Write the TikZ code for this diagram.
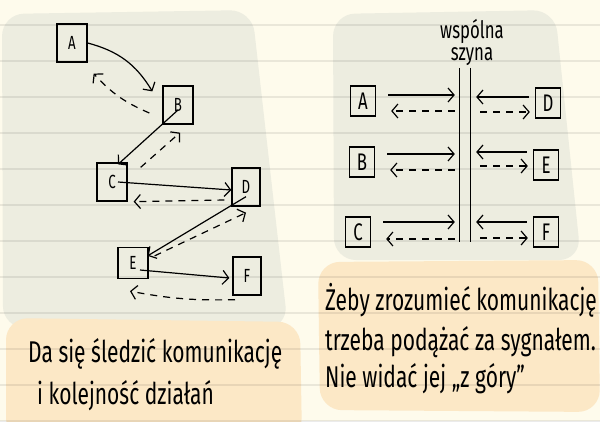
\documentclass[tikz,border=0pt]{standalone}
\usepackage{fontspec}
\setmainfont{Fira Sans}[FakeStretch=0.7]
\usetikzlibrary{arrows.meta,positioning}

\definecolor{paper}{HTML}{FEFBEC}
\definecolor{slate}{HTML}{EDEDE0}
\definecolor{peach}{HTML}{FCE8C6}

\tikzset{
  rule/.style={black, opacity=0.08, line width=1.6pt},
  box/.style={draw, line width=1.3pt, minimum width=30pt, minimum height=38pt,
    inner sep=0pt, font=\fontsize{19}{19}\selectfont},
  sbox/.style={box, minimum width=25pt, minimum height=30pt,
    font=\fontsize{24}{24}\selectfont},
  msg/.style={line width=1.2pt, -{Straight Barb[length=6pt,width=14pt]}},
  reply/.style={msg, dash pattern=on 7pt off 6pt},
  note/.style={anchor=base west, inner sep=0pt, font=\fontsize{30}{30}\selectfont},
}

\begin{document}
\begin{tikzpicture}[x=1pt,y=-1pt]
  \useasboundingbox (0,0) rectangle (600,421);
  \fill[paper] (0,0) rectangle (600,421);

  % panels
  \fill[slate, rounded corners=22pt] (2,14) -- (252,10) -- (288,328) -- (3,328) -- cycle;
  \fill[slate, rounded corners=22pt] (333,14) -- (555,10) -- (581,260) -- (334,260) -- cycle;
  \fill[peach, rounded corners=22pt] (6,318) -- (300,322) -- (302,440) -- (6,440) -- cycle;
  \fill[peach, rounded corners=22pt] (318,262) -- (598,260) -- (600,412) -- (320,410) -- cycle;

  % ruled paper
  \foreach \y in {25,61,...,421}
    \draw[rule] (0,\y) -- (600,\y);

  % left: point to point
  \node[box] (A) at (72,43) {A};
  \node[box] (B) at (178,105) {B};
  \node[box] (C) at (112,182) {C};
  \node[box, minimum width=28pt] (D) at (246,187) {D};
  \node[box, minimum height=31pt] (E) at (133,263) {E};
  \node[box, minimum width=28pt] (F) at (247,276) {F};

  \draw[msg] (A.east) to[bend left=22] ([xshift=-10pt,yshift=-6pt]B.north west);
  \draw[reply] ([xshift=-13pt,yshift=-8pt]B.west) to[bend left=12] ([xshift=6pt,yshift=-11pt]A.south east);
  \draw[msg] ([yshift=-5pt]B.center) -- ([xshift=6pt,yshift=-2pt]C.north);
  \draw[reply] ([xshift=13pt,yshift=-5pt]C.north east) -- ([xshift=2pt,yshift=-8pt]B.south);
  \draw[msg] ([xshift=6pt]C.center) -- ([yshift=-3pt]D.west);
  \draw[reply] ([xshift=-7pt,yshift=-13pt]D.west) -- ([xshift=6pt]C.south east);
  \draw[msg] ([yshift=10pt]D.south) -- ([xshift=-1pt,yshift=-9pt]E.north east);
  \draw[reply] ([xshift=6pt,yshift=-9pt]E.north east) -- ([yshift=-6pt]D.south);
  \draw[msg] ([xshift=7pt,yshift=-7pt]E.center) -- ([xshift=-3pt,yshift=-2pt]F.west);
  \draw[reply] ([xshift=-12pt,yshift=-4pt]F.south) to[bend left=6] ([xshift=-3pt,yshift=-12pt]E.south);

  % right: shared bus
  \node[inner sep=0pt, minimum width=10pt, minimum height=174pt] (bus) at (465,155) {};
  \draw[line width=1.3pt] (bus.north west) -- (bus.south west);
  \draw[line width=1.3pt] (bus.north east) -- (bus.south east);
  \node[align=center, inner sep=0pt, font=\fontsize{24}{22}\selectfont,
    above=2pt of bus.north, xshift=7pt] (buslabel) {wspólna\\szyna};

  \node[sbox] (rA) at (363,101) {A};
  \node[sbox] (rB) at (362,162) {B};
  \node[sbox] (rC) at (358,232) {C};
  \node[sbox] (rD) at (548,103) {D};
  \node[sbox] (rE) at (546,165) {E};
  \node[sbox] (rF) at (546,232) {F};

  \foreach \n/\up/\dn in {A/6/-10, B/8/-8, C/10/-7} {
    \draw[msg] ([xshift=12pt,yshift=\up pt]r\n.east) -- ([xshift=-5pt,yshift=\up pt]r\n.east -| bus.west);
    \draw[reply] ([xshift=-5pt,yshift=\dn pt]r\n.east -| bus.west) -- ([xshift=15pt,yshift=\dn pt]r\n.east);
  }
  \foreach \n/\up/\dn in {D/6/-9, E/13/-1, F/10/-6} {
    \draw[msg] ([xshift=-6pt,yshift=\up pt]r\n.west) -- ([xshift=6pt,yshift=\up pt]r\n.west -| bus.east);
    \draw[reply] ([xshift=10pt,yshift=\dn pt]r\n.west -| bus.east) -- ([xshift=-5pt,yshift=\dn pt]r\n.west);
  }

  % captions
  \node[note] (left1) at (28,362) {Da się śledzić komunikację};
  \node[note] (left2) at (37,404) {i kolejność działań};
  \node[note] (right1) at (325,310) {Żeby zrozumieć komunikację};
  \node[note] (right2) at (325,350) {trzeba podążać za sygnałem.};
  \node[note] (right3) at (325,387) {Nie widać jej „z góry”};
\end{tikzpicture}
\end{document}
